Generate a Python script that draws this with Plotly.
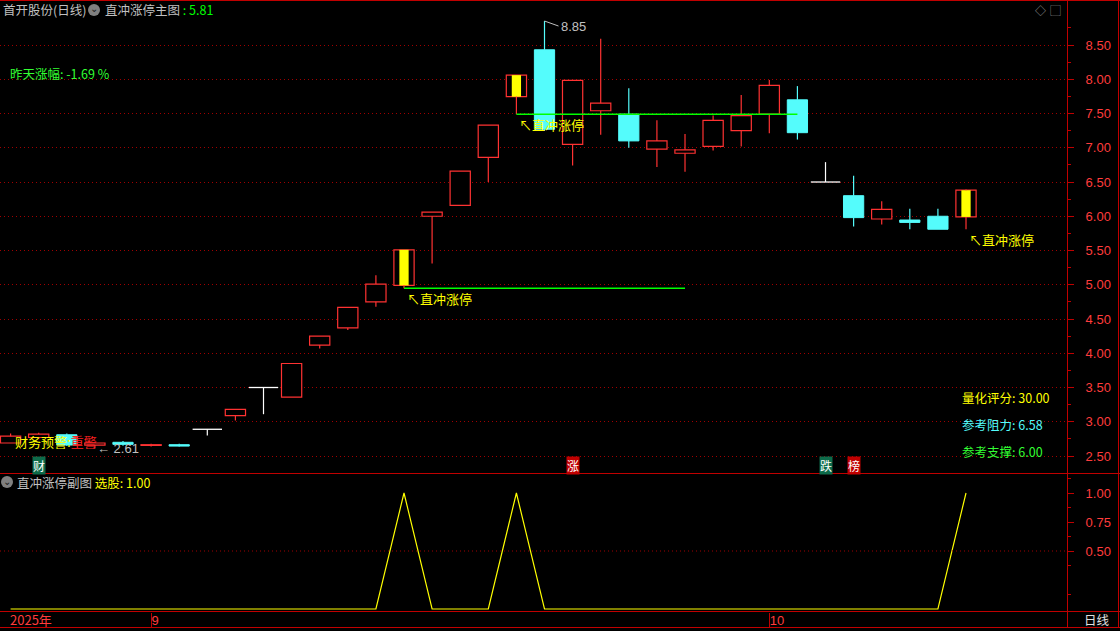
import numpy as np
import plotly.graph_objects as go

W, H = 1120, 631
FONT = "Noto Sans CJK SC"
RED = "#FF3232"
CYAN = "#54FCFC"
YELLOW = "#FFFF00"
GREEN = "#00FF00"
GREY = "#C0C0C0"
GRID = "#A00000"
FRAME = "#C00000"
AXLBL = "#FF3C3C"

# ---------------- data ----------------
dates = ["08-25", "08-26", "08-27", "08-28", "08-29",
         "09-01", "09-02", "09-03", "09-04", "09-05",
         "09-08", "09-09", "09-10", "09-11", "09-12",
         "09-15", "09-16", "09-17", "09-18", "09-19",
         "09-22", "09-23", "09-24", "09-25", "09-26",
         "09-29", "09-30", "10-09", "10-10",
         "10-13", "10-14", "10-15", "10-16", "10-17", "10-20"]
opens = [2.69, 2.77, 2.81, 2.66, 2.70, 2.655, 2.665, 2.89, 3.09, 3.50,
         3.36, 4.12, 4.37, 4.75, 4.99, 6.00, 6.16, 6.86, 7.745, 8.43,
         7.05, 7.54, 7.49, 6.98, 6.92, 7.02, 7.25, 7.49, 7.70, 6.50,
         6.30, 5.96, 5.945, 6.00, 5.99]
highs = [2.83, 2.84, 2.83, 2.70, 2.72, 2.68, 2.68, 2.89, 3.18, 3.50,
         3.85, 4.25, 4.67, 5.14, 5.51, 6.06, 6.66, 7.33, 8.06, 8.85,
         7.985, 8.59, 7.87, 7.40, 7.20, 7.47, 7.77, 7.99, 7.90, 6.79,
         6.59, 6.22, 6.11, 6.11, 6.39]
lows = [2.69, 2.75, 2.65, 2.61, 2.65, 2.64, 2.64, 2.80, 3.02, 3.11,
        3.36, 4.07, 4.34, 4.68, 4.95, 5.31, 6.16, 6.50, 7.49, 7.25,
        6.74, 7.19, 7.00, 6.72, 6.65, 6.96, 7.02, 7.21, 7.12, 6.50,
        5.85, 5.88, 5.81, 5.81, 5.81]
closes = [2.79, 2.82, 2.66, 2.69, 2.67, 2.665, 2.645, 2.89, 3.18, 3.50,
          3.85, 4.25, 4.67, 5.01, 5.51, 6.06, 6.66, 7.33, 8.06, 7.27,
          7.985, 7.65, 7.10, 7.10, 6.97, 7.40, 7.47, 7.91, 7.22, 6.50,
          5.98, 6.10, 5.91, 5.81, 6.38]
signal = [0, 0, 0, 0, 0, 0, 0, 0, 0, 0,
          0, 0, 0, 0, 1, 0, 0, 0, 1, 0,
          0, 0, 0, 0, 0, 0, 0, 0, 0, 0,
          0, 0, 0, 0, 1]

support_start = [14, 18]
support_end = [24, 28]
support_level = [4.95, 7.49]

event_idx = [1, 20, 29, 30]
event_text = ["财", "涨", "跌", "榜"]
event_bg = ["#0E6B4A", "#C00000", "#0E6B4A", "#C00000"]

month_idx = [5, 27]
month_text = ["9", "10"]
year_text = "2025年"

price_ticks = [2.5, 3.0, 3.5, 4.0, 4.5, 5.0, 5.5, 6.0, 6.5, 7.0, 7.5, 8.0, 8.5]
sub_ticks = [0.5, 0.75, 1.0]

stock_name = "首开股份(日线)"
main_name = "直冲涨停主图"
main_value = 5.81
yesterday_chg = -1.69
sub_name = "直冲涨停副图"
select_value = 1.00
score = 30.00
resistance = 6.58
support = 6.00
low_mark_idx = 3

# ---------------- derived ----------------
idx = np.arange(len(opens))
o = np.array(opens); h = np.array(highs); l = np.array(lows); c = np.array(closes)
zt = np.array(signal) == 1
inc = c > o
dec = c < o
flat = c == o
blo = np.minimum(o, c)
bhi = np.maximum(o, c)

fig = go.Figure()


def wick_segments(sel):
    xs, ys = [], []
    for i in idx[sel]:
        if h[i] > bhi[i]:
            xs += [i, i, None]; ys += [bhi[i], h[i], None]
        if l[i] < blo[i]:
            xs += [i, i, None]; ys += [l[i], blo[i], None]
    return xs, ys


for sel, col in [(inc, RED), (dec, CYAN), (flat, "#FFFFFF")]:
    xs, ys = wick_segments(sel)
    fig.add_trace(go.Scatter(x=xs, y=ys, mode="lines", line=dict(color=col, width=1.2),
                             hoverinfo="skip", showlegend=False))

fig.add_trace(go.Bar(x=idx[inc], y=(bhi - blo)[inc], base=blo[inc], width=0.72,
                     marker=dict(color="#000000", line=dict(color=RED, width=1.2)),
                     showlegend=False))
fig.add_trace(go.Bar(x=idx[dec], y=(bhi - blo)[dec], base=blo[dec], width=0.72,
                     marker=dict(color=CYAN, line=dict(color=CYAN, width=1)),
                     showlegend=False))
fig.add_trace(go.Bar(x=idx[zt], y=(bhi - blo)[zt], base=blo[zt], width=0.33,
                     marker=dict(color=YELLOW, line=dict(width=0)),
                     showlegend=False))
fig.add_trace(go.Scatter(x=idx[flat], y=o[flat], mode="markers",
                         marker=dict(symbol="line-ew", size=21, line=dict(color="#FFFFFF", width=1.3)),
                         showlegend=False))

for s, e, lv in zip(support_start, support_end, support_level):
    fig.add_trace(go.Scatter(x=[s, e], y=[lv, lv], mode="lines",
                             line=dict(color=GREEN, width=1.5), showlegend=False))

fig.add_trace(go.Scatter(x=idx, y=signal, mode="lines", line=dict(color=YELLOW, width=1.2),
                         xaxis="x2", yaxis="y2", showlegend=False))


def py(p):
    return 1 - p / H


def pxx(p):
    return p / W


XR = [-0.3772, 37.594]
XD = [0, 1067 / W]

fig.update_layout(
    width=W, height=H, margin=dict(l=0, r=0, t=0, b=0),
    paper_bgcolor="#000000", plot_bgcolor="#000000",
    barmode="overlay", showlegend=False,
    font=dict(family=FONT, color=GREY, size=12),
    xaxis=dict(domain=XD, range=XR, anchor="y", showgrid=False, zeroline=False,
               showticklabels=False, ticks="", showline=False),
    xaxis2=dict(domain=XD, range=XR, anchor="y2", matches="x", showgrid=False, zeroline=False,
                tickmode="array", tickvals=month_idx, ticktext=month_text,
                ticks="outside", ticklen=15, tickwidth=1, tickcolor=FRAME,
                tickfont=dict(color=AXLBL, size=13, family="Liberation Sans"),
                ticklabelposition="outside right", ticklabelstandoff=-4, showline=False),
    yaxis=dict(domain=[py(474), py(1)], range=[2.2372, 9.1423], anchor="x", side="right",
               tickmode="array", tickvals=price_ticks, ticktext=["%.2f" % v for v in price_ticks],
               showgrid=True, gridcolor=GRID, griddash="1px,3px", gridwidth=1,
               ticks="outside", ticklen=6, tickcolor=FRAME,
               minor=dict(tickmode="linear", tick0=2.25, dtick=0.5, ticks="outside", ticklen=3,
                          tickcolor=FRAME, showgrid=False),
               showline=True, linecolor=FRAME, linewidth=1, zeroline=False,
               tickfont=dict(color=AXLBL, size=13, family="Liberation Sans"),
               ticklabelstandoff=9),
    yaxis2=dict(domain=[py(612), py(474)], range=[-0.02586, 1.1638], anchor="x2", side="right",
                tickmode="array", tickvals=sub_ticks, ticktext=["%.2f" % v for v in sub_ticks],
                showgrid=False, ticks="outside", ticklen=6, tickcolor=FRAME,
                minor=dict(tickmode="linear", tick0=0.625, dtick=0.25, ticks="outside", ticklen=3,
                           tickcolor=FRAME, showgrid=False),
                showline=True, linecolor=FRAME, linewidth=1, zeroline=False,
                tickfont=dict(color=AXLBL, size=13, family="Liberation Sans"),
                ticklabelstandoff=9),
)

shapes = []
# sub-panel 0.5 gridline
shapes.append(dict(type="line", xref="paper", yref="y2", x0=0, x1=1067 / W, y0=0.5, y1=0.5,
                   line=dict(color=GRID, width=1, dash="1px,3px")))
for yy in [0.5, 473.5, 611.5, 627.5]:
    shapes.append(dict(type="line", xref="paper", yref="paper", x0=0, x1=1, y0=py(yy), y1=py(yy),
                       line=dict(color=FRAME, width=1)))
for xx in [1067.5, 1118.5]:
    shapes.append(dict(type="line", xref="paper", yref="paper", x0=pxx(xx), x1=pxx(xx), y0=py(0), y1=py(628),
                       line=dict(color=FRAME, width=1)))
# header circle icons
for cx, cy in [(94, 10), (7, 482)]:
    shapes.append(dict(type="circle", xref="paper", yref="paper", x0=pxx(cx - 6), x1=pxx(cx + 6),
                       y0=py(cy + 6), y1=py(cy - 6), fillcolor="#808080", line=dict(width=0)))
fig.update_layout(shapes=shapes)

ann = []


def txt(x, y, text, color, size=12, xanchor="left", yanchor="middle", family=FONT, **kw):
    d = dict(xref="paper", yref="paper", x=pxx(x), y=py(y), text=text, showarrow=False,
             font=dict(color=color, size=size, family=family), xanchor=xanchor, yanchor=yanchor)
    d.update(kw)
    return d


ann.append(txt(1, 10, stock_name, GREY, 12.5))
ann.append(txt(94, 10, "⌄", "#202020", 10, xanchor="center", yshift=2))
ann.append(txt(103, 10, main_name + '<span style="color:#00FF00"> : %.2f</span>' % main_value, GREY, 12.5))
ann.append(txt(8, 73, '昨天涨幅: %.2f %%' % yesterday_chg, "#33FF33", 12.5))
ann.append(txt(1040, 10, "◇", "#A0A0A0", 11, xanchor="center"))
ann.append(txt(1055, 10, "▢", "#A0A0A0", 11, xanchor="center"))

ann.append(txt(7, 482, "⌄", "#202020", 10, xanchor="center", yshift=2))
ann.append(txt(15, 482, sub_name + '<span style="color:#FFFF00"> 选股: %.2f</span>' % select_value, GREY, 12.5))

ann.append(txt(960, 397, "量化评分: %.2f" % score, YELLOW, 12.5))
ann.append(txt(960, 424, "参考阻力: %.2f" % resistance, CYAN, 12.5))
ann.append(txt(960, 451, "参考支撑: %.2f" % support, "#33FF33", 12.5))

ann.append(txt(13, 441, '财务预警:<span style="color:#FF2020">重警</span>', YELLOW, 13))

ann.append(txt(8, 619, year_text, AXLBL, 13))
ann.append(txt(1082, 619, "日线", "#E0E0E0", 12.5))

for i in idx[zt]:
    ann.append(dict(xref="x", yref="y", x=int(i), y=float(l[i]), text="↖直冲涨停", showarrow=False,
                    xanchor="left", yanchor="top", xshift=1, yshift=1,
                    font=dict(color=YELLOW, size=13, family=FONT)))

hi_i = int(np.argmax(h))
ann.append(dict(xref="x", yref="y", x=hi_i, y=float(h[hi_i]), text="%.2f" % h[hi_i], showarrow=True,
                arrowhead=0, arrowwidth=1, arrowcolor=GREY, ax=14, ay=5, xanchor="left",
                font=dict(color=GREY, size=13, family="Liberation Sans")))
ann.append(dict(xref="x", yref="y", x=low_mark_idx, y=float(l[low_mark_idx]), text="← %.2f" % l[low_mark_idx],
                showarrow=False, xanchor="left", yanchor="middle", xshift=0,
                font=dict(color=GREY, size=13, family="Liberation Sans")))

for i, t, bg in zip(event_idx, event_text, event_bg):
    ann.append(dict(xref="x", yref="paper", x=i, y=py(465), text=t, showarrow=False,
                    xanchor="center", yanchor="middle", bgcolor=bg, borderpad=0,
                    font=dict(color="#FFFFFF", size=12, family=FONT)))

fig.update_layout(annotations=ann)

fig.write_html("out.html", config={"displayModeBar": False},
               post_script="document.body.style.margin='0';document.body.style.overflow='hidden';")
